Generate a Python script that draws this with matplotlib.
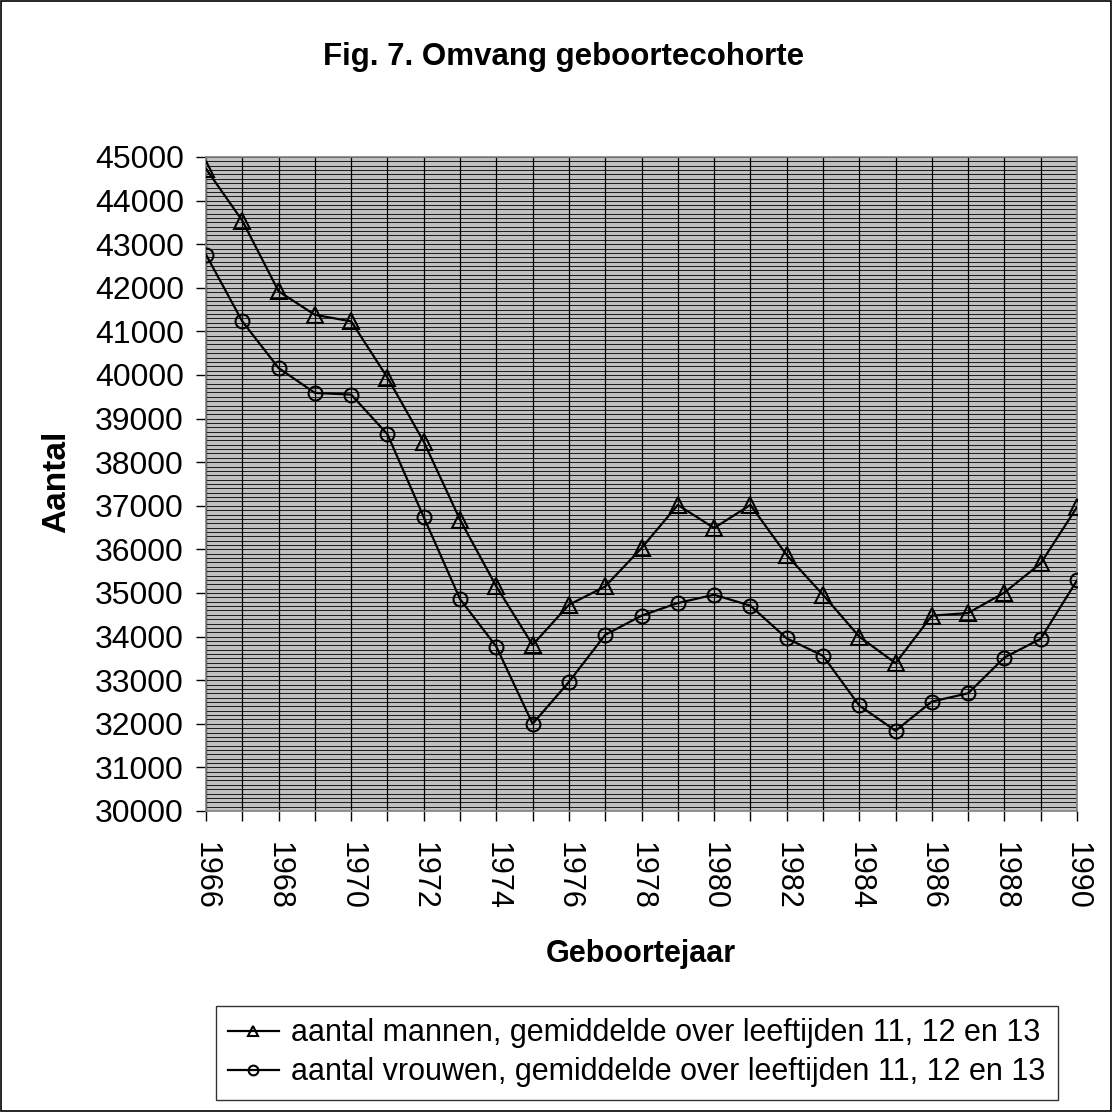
import matplotlib
matplotlib.use('Agg')
import matplotlib.pyplot as plt
from matplotlib.patches import Rectangle
from matplotlib.ticker import MultipleLocator

plt.rcParams['font.family'] = ['Liberation Sans', 'DejaVu Sans']

years = list(range(1966, 1991))
mannen = [44730, 43540, 41920, 41380, 41230, 39940, 38470, 36680, 35150, 33810,
          34730, 35150, 36030, 37020, 36490, 37020, 35870, 34960, 34000, 33390,
          34480, 34540, 35010, 35680, 36970]
vrouwen = [42760, 41230, 40160, 39590, 39550, 38640, 36740, 34860, 33770, 32000,
           32960, 34040, 34480, 34770, 34960, 34710, 33960, 33560, 32420, 31840,
           32510, 32700, 33520, 33950, 35290]
label_m = 'aantal mannen, gemiddelde over leeftijden 11, 12 en 13'
label_v = 'aantal vrouwen, gemiddelde over leeftijden 11, 12 en 13'

W = 1112
fig = plt.figure(figsize=(11.12, 11.12), dpi=100)
ax = fig.add_axes([206 / W, 1 - 811 / W, (1077 - 206) / W, (811 - 157) / W])
ax.set_facecolor('#c0c0c0')

ax.plot(years, mannen, color='black', lw=1.6, marker='^', ms=11,
        mfc='none', mec='black', mew=1.5, label=label_m, zorder=3)
ax.plot(years, vrouwen, color='black', lw=1.6, marker='o', ms=10,
        mfc='none', mec='black', mew=1.5, label=label_v, zorder=3)

ax.set_xlim(1966, 1990)
ax.set_ylim(30000, 45000)
ax.set_xticks(years)
ax.set_xticklabels([str(y) if y % 2 == 0 else '' for y in years],
                   rotation=-90, fontsize=22)
ax.yaxis.set_major_locator(MultipleLocator(1000))
ax.yaxis.set_minor_locator(MultipleLocator(100))
ax.tick_params(axis='y', which='major', labelsize=23, length=7, width=1, pad=9)
ax.tick_params(axis='y', which='minor', length=0)
ax.tick_params(axis='x', length=7, width=1, pad=15)

ax.grid(True, axis='y', which='both', color='black', lw=0.6, zorder=1)
ax.grid(True, axis='x', which='major', color='black', lw=0.9, zorder=1)
ax.set_axisbelow(True)
for s in ax.spines.values():
    s.set_color('#808080')
    s.set_linewidth(1.2)

fig.text(0.507, 1 - 65 / W, 'Fig. 7. Omvang geboortecohorte', fontsize=22.5,
         fontweight='bold', ha='center', va='baseline')
fig.text(640.5 / W, 1 - 962 / W, 'Geboortejaar', fontsize=22,
         fontweight='bold', ha='center', va='baseline')
fig.text(56.5 / W, 1 - 482 / W, 'Aantal', fontsize=24, fontweight='bold',
         rotation=90, ha='center', va='center')

leg = fig.legend(loc='upper left', bbox_to_anchor=(216 / W, 1 - 1006 / W),
                 borderaxespad=0, fontsize=22, frameon=True, fancybox=False,
                 edgecolor='black', borderpad=0.4, handlelength=1.65,
                 handletextpad=0.42, labelspacing=0.3, markerscale=0.7)
leg.get_frame().set_linewidth(1.0)

fig.patches.append(Rectangle((0.001, 0.001), 0.998, 0.998, transform=fig.transFigure,
                             fill=False, edgecolor='black', lw=1.2))

fig.savefig('out.png', dpi=100, facecolor='white')
